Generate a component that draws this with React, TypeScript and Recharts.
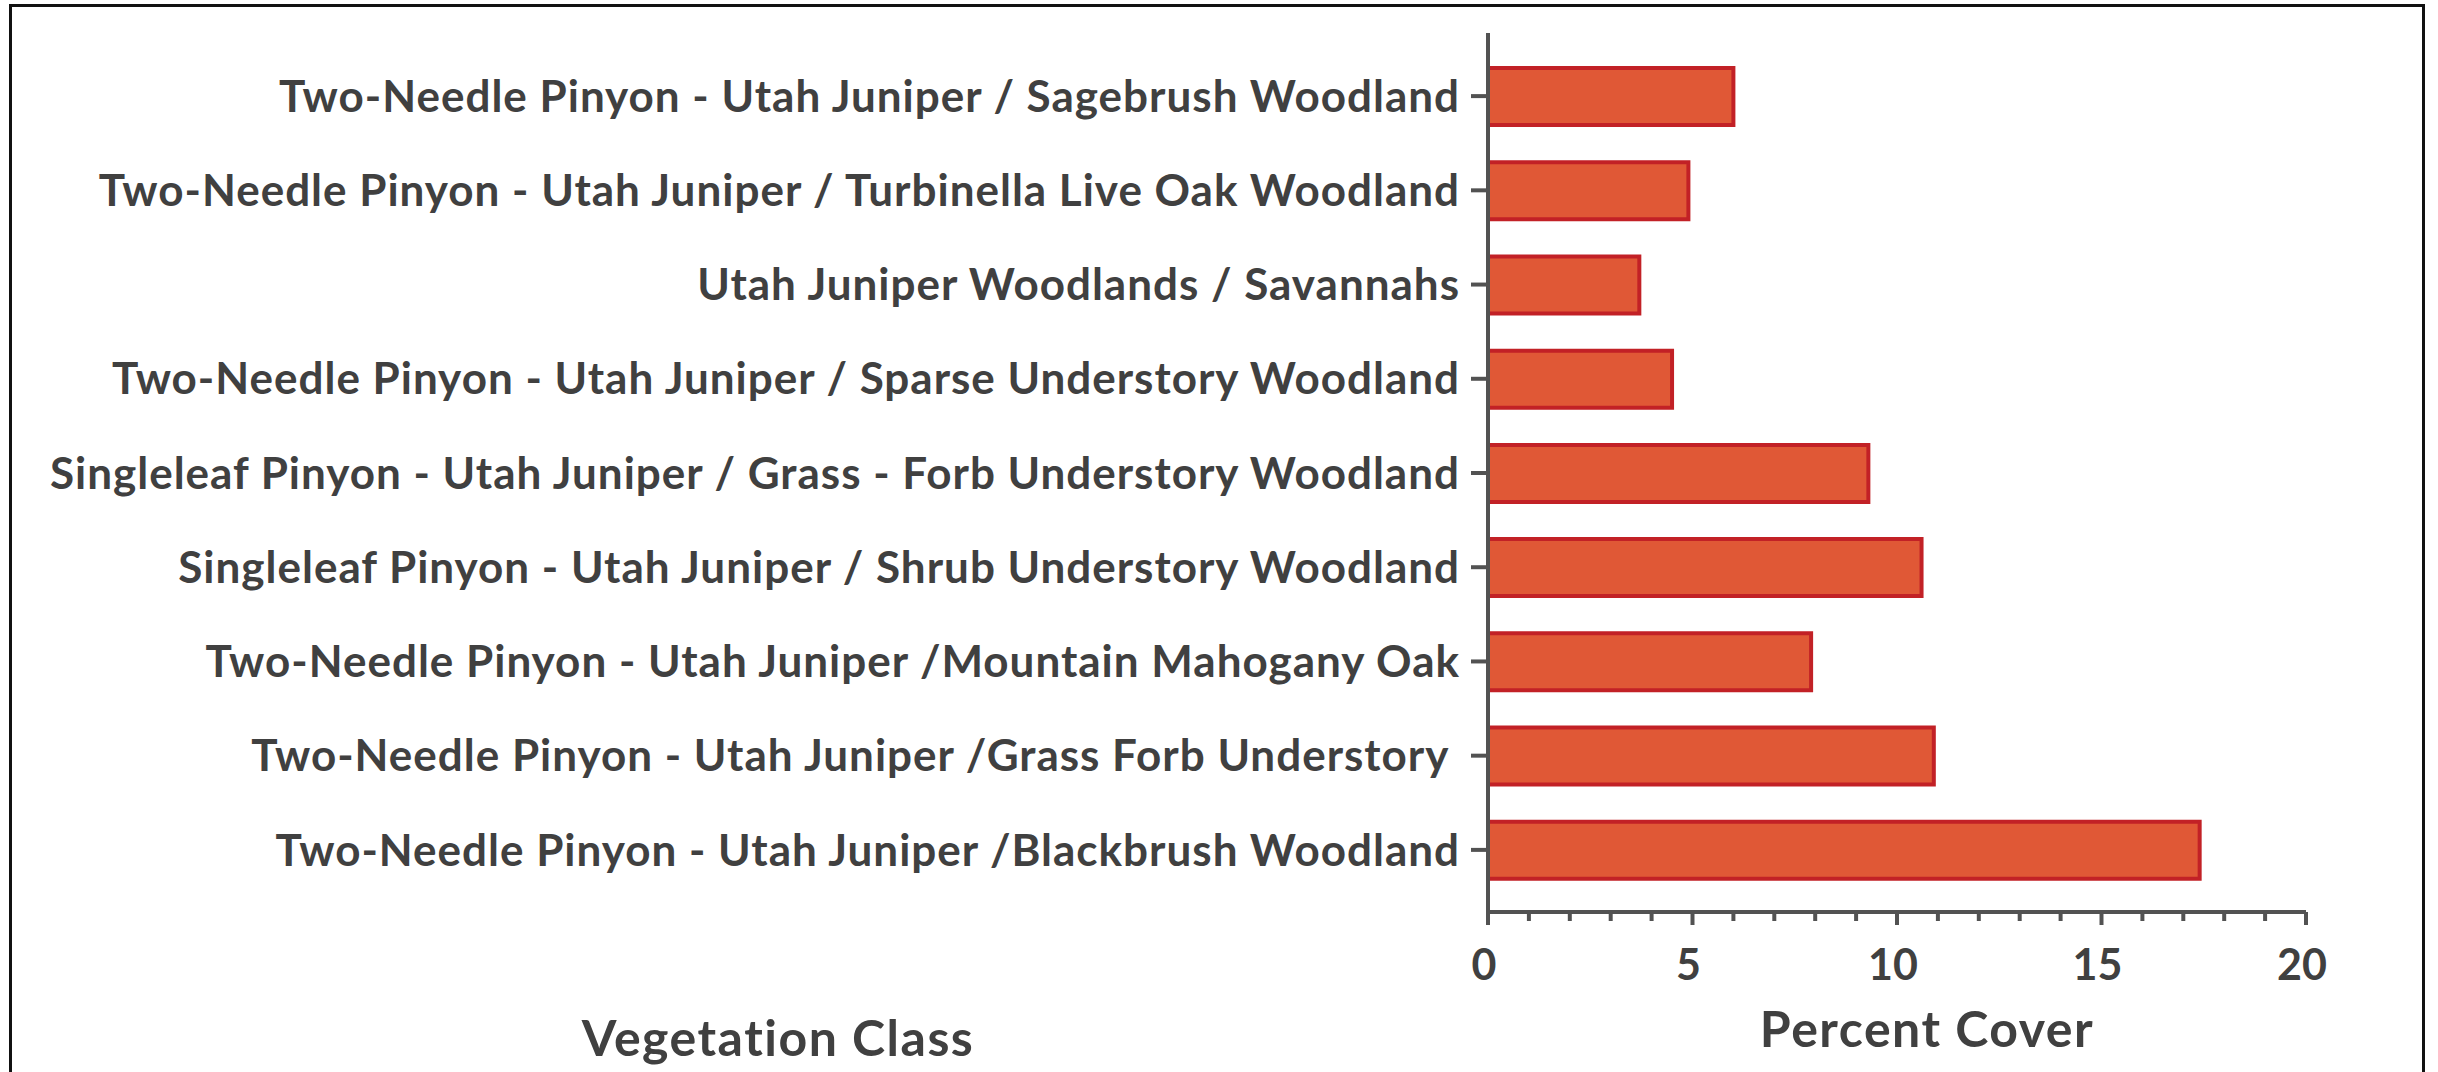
import React from 'react';
import { BarChart, Bar, XAxis, YAxis } from 'recharts';

const vegetationClasses = [
  'Two-Needle Pinyon - Utah Juniper / Sagebrush Woodland',
  'Two-Needle Pinyon - Utah Juniper / Turbinella Live Oak Woodland',
  'Utah Juniper Woodlands / Savannahs',
  'Two-Needle Pinyon - Utah Juniper / Sparse Understory Woodland',
  'Singleleaf Pinyon - Utah Juniper / Grass - Forb Understory Woodland',
  'Singleleaf Pinyon - Utah Juniper / Shrub Understory Woodland',
  'Two-Needle Pinyon - Utah Juniper /Mountain Mahogany Oak',
  'Two-Needle Pinyon - Utah Juniper /Grass Forb Understory\u00a0',
  'Two-Needle Pinyon - Utah Juniper /Blackbrush Woodland',
];

const percentCover = [6.0, 4.9, 3.7, 4.5, 9.3, 10.6, 7.9, 10.9, 17.4];

const xTicks = [0, 1, 2, 3, 4, 5, 6, 7, 8, 9, 10, 11, 12, 13, 14, 15, 16, 17, 18, 19, 20];
const majorTicks = [0, 5, 10, 15, 20];

const chartData = vegetationClasses.map((name, i) => ({ name, cover: percentCover[i] }));

const FONT = 'Lato, "DejaVu Sans", sans-serif';
const TEXT_COLOR = '#404040';
const AXIS_COLOR = '#525252';

const XTick = (props: any) => {
  const { x, y, payload } = props;
  const major = majorTicks.includes(payload.value);
  return (
    <g>
      <line x1={x} x2={x} y1={y} y2={y + (major ? 13 : 9)} stroke={AXIS_COLOR} strokeWidth={4} />
      {major && (
        <text
          x={x - 4}
          y={y + 68}
          textAnchor="middle"
          fill={TEXT_COLOR}
          fontFamily={FONT}
          fontWeight={700}
          fontSize={43}
        >
          {payload.value}
        </text>
      )}
    </g>
  );
};

const App: React.FC = () => {
  return (
    <div
      style={{
        position: 'fixed',
        left: 0,
        top: 0,
        width: 2438,
        height: 1072,
        overflow: 'hidden',
        background: '#fff',
      }}
    >
      <div
        style={{
          position: 'absolute',
          left: 9,
          top: 4,
          width: 2416,
          height: 1120,
          border: '3px solid #111',
          boxSizing: 'border-box',
        }}
      />
      <div style={{ position: 'absolute', left: 0, top: 0 }}>
        <BarChart
          width={2438}
          height={1072}
          data={chartData}
          layout="vertical"
          margin={{ top: 33, right: 132, bottom: 25, left: 0 }}
          barSize={57}
        >
          <XAxis
            type="number"
            domain={[0, 20]}
            ticks={xTicks}
            interval={0}
            height={135}
            tickSize={0}
            tickMargin={0}
            tickLine={false}
            axisLine={{ stroke: AXIS_COLOR, strokeWidth: 4 }}
            tick={<XTick />}
            label={{
              value: 'Percent Cover',
              position: 'insideBottom',
              offset: 0,
              dx: 30,
              fill: TEXT_COLOR,
              fontFamily: FONT,
              fontWeight: 700,
              fontSize: 50,
              letterSpacing: 1.5,
            }}
          />
          <YAxis
            type="category"
            dataKey="name"
            width={1488}
            padding={{ top: 16, bottom: 15 }}
            interval={0}
            tickSize={17}
            tickMargin={11}
            tickLine={{ stroke: AXIS_COLOR, strokeWidth: 4 }}
            axisLine={{ stroke: AXIS_COLOR, strokeWidth: 4 }}
            tick={{ fill: TEXT_COLOR, fontFamily: FONT, fontWeight: 700, fontSize: 44, letterSpacing: 1 }}
            label={{
              value: 'Vegetation Class',
              position: 'insideBottom',
              offset: -144,
              dx: 34,
              fill: TEXT_COLOR,
              fontFamily: FONT,
              fontWeight: 700,
              fontSize: 50,
              letterSpacing: 1.5,
            }}
          />
          <Bar
            dataKey="cover"
            fill="#E05836"
            stroke="#C22126"
            strokeWidth={4}
            isAnimationActive={false}
          />
        </BarChart>
      </div>
    </div>
  );
};

export default App;
